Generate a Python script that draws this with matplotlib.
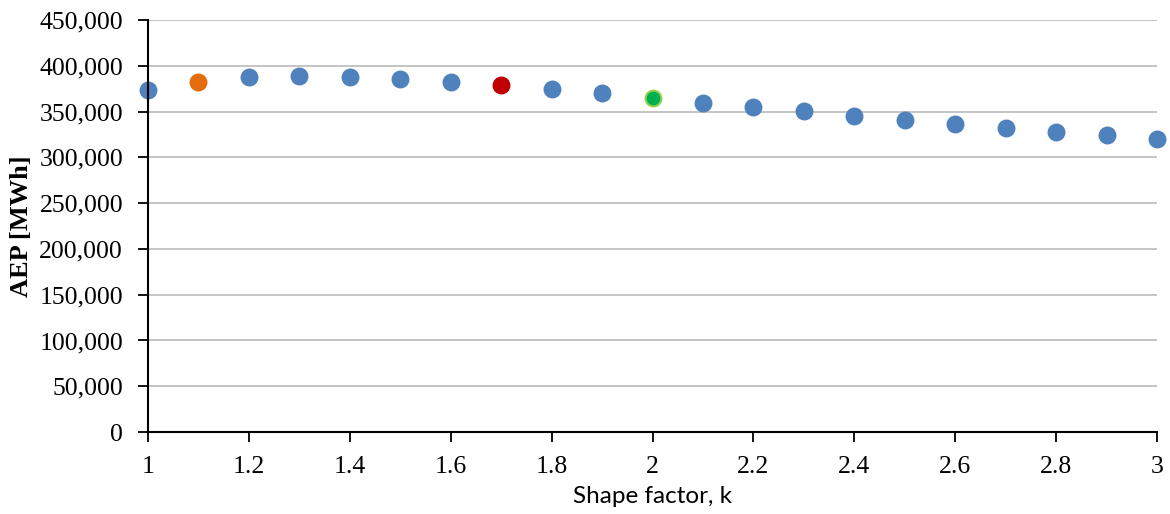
import matplotlib.pyplot as plt
from matplotlib.ticker import FuncFormatter, MultipleLocator

# Shape factor k and annual energy production (MWh)
shape_k = [1.0, 1.1, 1.2, 1.3, 1.4, 1.5, 1.6, 1.7, 1.8, 1.9, 2.0,
           2.1, 2.2, 2.3, 2.4, 2.5, 2.6, 2.7, 2.8, 2.9, 3.0]
aep_mwh = [373900, 382600, 387300, 388400, 388000, 385400, 382200, 378900,
           374200, 370200, 365200, 359800, 355000, 350300, 345200, 340900,
           336500, 331800, 327800, 324200, 320200]

# highlighted points: k -> (face colour, edge colour)
highlight = {1.1: ('#E46C0A', '#E46C0A'),
             1.7: ('#C00000', '#C00000'),
             2.0: ('#00B050', '#92D050')}

fig = plt.figure(figsize=(11.7, 5.14), dpi=100)
ax = fig.add_axes([0.1265, 0.1595, 0.8624, 0.8015])

for k, v in zip(shape_k, aep_mwh):
    face, edge = highlight.get(k, ('#4F81BD', '#4F81BD'))
    ax.scatter(k, v, s=130, color=face, edgecolors=edge, linewidths=1.5,
               zorder=3, clip_on=False)

ax.set_xlim(1, 3)
ax.set_ylim(0, 450000)
ax.xaxis.set_major_locator(MultipleLocator(0.2))
ax.yaxis.set_major_locator(MultipleLocator(50000))
ax.xaxis.set_major_formatter(FuncFormatter(lambda x, p: '%g' % round(x, 1)))
ax.yaxis.set_major_formatter(FuncFormatter(lambda y, p: '{:,.0f}'.format(y)))

ax.grid(axis='y', color='#BFBFBF', linewidth=1.3)
ax.set_axisbelow(True)
for s in ['top', 'right']:
    ax.spines[s].set_visible(False)
for s in ['left', 'bottom']:
    ax.spines[s].set_color('black')
    ax.spines[s].set_linewidth(1.5)
    ax.spines[s].set_zorder(4)

ax.tick_params(axis='both', direction='out', length=7, width=1.3,
               labelsize=18.5)
ax.tick_params(axis='x', pad=10)
ax.tick_params(axis='y', pad=11)
for lab in ax.get_xticklabels() + ax.get_yticklabels():
    lab.set_family('Liberation Serif')

ax.set_ylabel('AEP [MWh]', family='Liberation Serif', fontweight='bold',
              fontsize=19)
ax.yaxis.set_label_coords(-0.114, 0.5)
ax.set_xlabel('Shape factor, k', family='Lato', fontsize=17.5, labelpad=6)

fig.savefig('out.png', dpi=100)
